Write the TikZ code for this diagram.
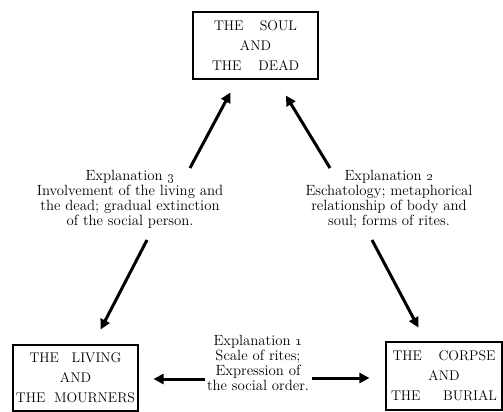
\documentclass[tikz,border=0pt]{standalone}
\usetikzlibrary{arrows.meta}
\begin{document}
\begin{tikzpicture}[x=1pt,y=-1pt,
  box/.style={draw, line width=1.1pt, align=center, inner sep=0pt,
    font=\fontsize{14}{20}\selectfont},
  expl/.style={align=center, inner sep=0pt, font=\fontsize{14.8}{15}\selectfont},
  arr/.style={line width=3pt, -{Triangle[length=10pt,width=10pt]}}]
\useasboundingbox (0,0) rectangle (503,412);
% boxes
\node[box, minimum width=125pt, minimum height=67pt] (top) at (255.5,45.5)
  {\makebox[83pt][s]{THE\hfill SOUL}\\AND\\\makebox[87pt][s]{THE\hfill DEAD}};
\node[box, minimum width=125pt, minimum height=66pt] (left) at (75.5,378)
  {\makebox[92pt][s]{THE\hfill LIVING}\\AND\\\makebox[119pt][s]{THE\hfill MOURNERS}};
\node[box, minimum width=116pt, minimum height=68pt] (right) at (444,376)
  {\makebox[103pt][s]{THE\hfill CORPSE}\\AND\\\makebox[106pt][s]{THE\hfill BURIAL}};
% explanations
\node[expl] (exp3) at (130,199.5)
  {Explanation \oldstylenums{3}\\Involvement of the living and\\the dead; gradual extinction\\of the social person.};
\node[expl] (exp2) at (389,199.5)
  {Explanation \oldstylenums{2}\\Eschatology; metaphorical\\relationship of body and\\soul; forms of rites.};
\node[expl] (exp1) at (258,363)
  {Explanation \oldstylenums{1}\\Scale of rites;\\Expression of\\the social order.};
% arrow tails
\coordinate (t3a) at (190,168);
\coordinate (t3b) at (147,240);
\coordinate (t2a) at (330,168);
\coordinate (t2b) at (372,240);
\coordinate (t1a) at (205,379);
\coordinate (t1b) at (312,378);
% arrows
\draw[arr, shorten >=14.7pt] (t3a) -- (top);
\draw[arr, shorten >=18.7pt] (t2a) -- (top);
\draw[arr, shorten >=16.9pt] (t3b) -- (left);
\draw[arr, shorten >=15.8pt] (t2b) -- (right);
\draw[arr, shorten >=15pt] (t1a) -- (t1a -| left.east);
\draw[arr, shorten >=16pt] (t1b) -- (t1b -| right.west);
\end{tikzpicture}
\end{document}
